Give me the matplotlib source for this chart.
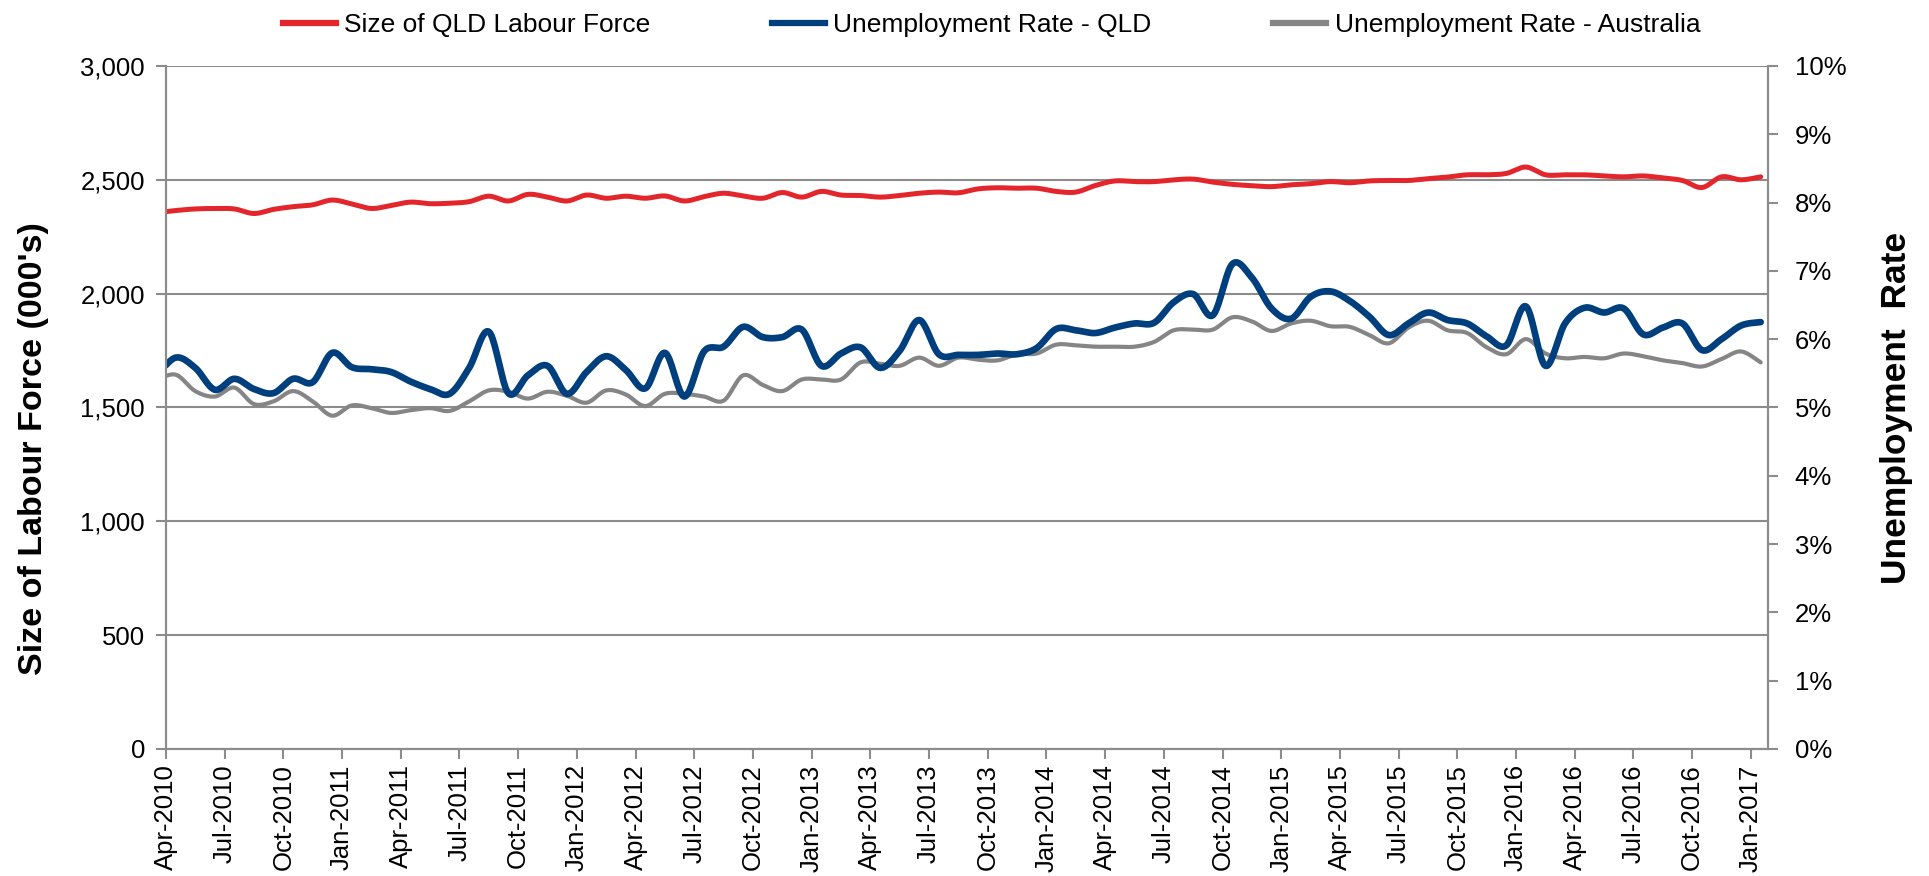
import numpy as np
import pandas as pd
import matplotlib
matplotlib.use("Agg")
import matplotlib.pyplot as plt
from matplotlib.ticker import FuncFormatter
from matplotlib.lines import Line2D

plt.rcParams['font.family'] = ['Liberation Sans', 'DejaVu Sans']

# monthly series, Mar-2010 .. Jan-2017 (mid-month points, Mar-2010 is clipped by the axis)
months = pd.date_range("2010-03-01", periods=83, freq="MS")

labour_force = [2355,
                2365, 2372, 2374, 2372, 2352, 2370, 2382, 2390, 2411, 2394,
                2374, 2387, 2402, 2395, 2397, 2404, 2428, 2407, 2436, 2424,
                2407, 2433, 2419, 2428, 2419, 2429, 2407, 2426, 2441, 2429,
                2419, 2444, 2424, 2449, 2433, 2431, 2424, 2431, 2441, 2446,
                2443, 2460, 2465, 2463, 2463, 2449, 2446, 2475, 2495, 2492,
                2492, 2500, 2503, 2490, 2480, 2474, 2470, 2478, 2483, 2492,
                2487, 2495, 2497, 2497, 2505, 2512, 2522, 2522, 2528, 2556,
                2522, 2522, 2522, 2517, 2513, 2517, 2508, 2497, 2466, 2513,
                2500, 2513]

rate_qld = [5.45,
            5.73, 5.58, 5.26, 5.42, 5.27, 5.21, 5.42, 5.37, 5.80, 5.59,
            5.56, 5.52, 5.38, 5.27, 5.20, 5.58, 6.11, 5.21, 5.47, 5.61,
            5.20, 5.52, 5.75, 5.55, 5.28, 5.80, 5.16, 5.82, 5.89, 6.18,
            6.03, 6.03, 6.14, 5.61, 5.79, 5.88, 5.58, 5.83, 6.28, 5.78,
            5.77, 5.77, 5.79, 5.78, 5.87, 6.15, 6.13, 6.09, 6.17, 6.23,
            6.24, 6.54, 6.66, 6.35, 7.10, 6.90, 6.45, 6.30, 6.62, 6.70,
            6.56, 6.33, 6.06, 6.23, 6.39, 6.28, 6.23, 6.04, 5.91, 6.48,
            5.61, 6.23, 6.46, 6.39, 6.45, 6.07, 6.17, 6.23, 5.84, 6.00,
            6.20, 6.25]

rate_aus = [5.40,
            5.48, 5.24, 5.16, 5.29, 5.05, 5.09, 5.24, 5.09, 4.88, 5.03,
            4.99, 4.92, 4.96, 4.99, 4.95, 5.09, 5.25, 5.23, 5.13, 5.23,
            5.17, 5.07, 5.25, 5.19, 5.02, 5.20, 5.20, 5.16, 5.10, 5.47,
            5.33, 5.24, 5.41, 5.41, 5.41, 5.66, 5.64, 5.61, 5.73, 5.61,
            5.73, 5.70, 5.69, 5.78, 5.79, 5.92, 5.91, 5.89, 5.89, 5.89,
            5.96, 6.13, 6.14, 6.14, 6.32, 6.26, 6.12, 6.23, 6.27, 6.19,
            6.18, 6.06, 5.94, 6.17, 6.27, 6.13, 6.09, 5.88, 5.78, 6.00,
            5.79, 5.72, 5.74, 5.72, 5.79, 5.75, 5.69, 5.65, 5.60, 5.71,
            5.82, 5.66]

tick_labels = ["Apr-2010", "Jul-2010", "Oct-2010", "Jan-2011", "Apr-2011", "Jul-2011",
               "Oct-2011", "Jan-2012", "Apr-2012", "Jul-2012", "Oct-2012", "Jan-2013",
               "Apr-2013", "Jul-2013", "Oct-2013", "Jan-2014", "Apr-2014", "Jul-2014",
               "Oct-2014", "Jan-2015", "Apr-2015", "Jul-2015", "Oct-2015", "Jan-2016",
               "Apr-2016", "Jul-2016", "Oct-2016", "Jan-2017"]

RED = "#e3262b"
BLUE = "#003f7d"
GREY = "#858585"
AXC = "#8c8c8c"


def smooth(x, y, n=20):
    # excel-like smoothed line (catmull-rom)
    x = np.asarray(x, float)
    y = np.asarray(y, float)
    px = np.concatenate([[x[0]], x, [x[-1]]])
    py = np.concatenate([[y[0]], y, [y[-1]]])
    t = np.linspace(0, 1, n, endpoint=False)
    xs, ys = [], []
    for i in range(1, len(px) - 2):
        for p, out in ((px, xs), (py, ys)):
            p0, p1, p2, p3 = p[i - 1], p[i], p[i + 1], p[i + 2]
            out.append(0.5 * (2 * p1 + (-p0 + p2) * t
                              + (2 * p0 - 5 * p1 + 4 * p2 - p3) * t ** 2
                              + (-p0 + 3 * p1 - 3 * p2 + p3) * t ** 3))
    xs.append([x[-1]])
    ys.append([y[-1]])
    return np.concatenate(xs), np.concatenate(ys)


# x in months from 1 Apr 2010, points sit mid-month
x = np.arange(len(months)) - 0.5

fig = plt.figure(figsize=(19.29, 8.76), dpi=100)
ax = fig.add_axes([0.086, 0.145, 0.8306, 0.7797])
ax2 = ax.twinx()

sx, sy = smooth(x, labour_force)
ax.plot(sx, sy, color=RED, lw=3.6, solid_capstyle="round")
sx, sy = smooth(x, rate_aus)
ax2.plot(sx, sy, color=GREY, lw=3.0, solid_capstyle="round")
sx, sy = smooth(x, rate_qld)
ax2.plot(sx, sy, color=BLUE, lw=4.8, solid_capstyle="round")

ax.set_xlim(0, 81.88)
ax.set_ylim(0, 3000)
ax2.set_ylim(0, 10)
ax.set_yticks(np.arange(0, 3001, 500))
ax.yaxis.set_major_formatter(FuncFormatter(lambda v, p: f"{v:,.0f}"))
ax2.set_yticks(np.arange(0, 11, 1))
ax2.yaxis.set_major_formatter(FuncFormatter(lambda v, p: f"{v:.0f}%"))
ax.set_xticks(np.arange(0, 82, 3))
ax.set_xticklabels(tick_labels, rotation=90)

ax.grid(axis="y", color=AXC, lw=1.5)
ax.set_axisbelow(True)
for a in (ax, ax2):
    for s in a.spines.values():
        s.set_color(AXC)
        s.set_linewidth(1.5)
    a.spines["top"].set_visible(False)
    a.tick_params(colors=AXC, width=1.5, length=7, labelsize=18.5, labelcolor="black")
ax.tick_params(axis="x", pad=4)
ax.tick_params(axis="y", pad=8)
ax2.tick_params(axis="y", pad=12)

ax.set_ylabel("Size of Labour Force (000's)", fontsize=24.5, fontweight="bold")
ax.yaxis.set_label_coords(-0.073, 0.44)
ax2.set_ylabel("Unemployment  Rate", fontsize=25.5, fontweight="bold", rotation=90)
ax2.yaxis.set_label_coords(1.070, 0.50)

handles = [Line2D([], [], color=RED, lw=4.5),
           Line2D([], [], color=BLUE, lw=4.5),
           Line2D([], [], color=GREY, lw=4.5)]
fig.legend(handles, ["Size of QLD Labour Force", "Unemployment Rate - QLD",
                     "Unemployment Rate - Australia"],
           loc="upper center", bbox_to_anchor=(0.514, 1.012), ncol=3, frameon=False,
           fontsize=19, handlelength=2.0, handletextpad=0.33, columnspacing=4.6)

fig.savefig("out.png", dpi=100)
